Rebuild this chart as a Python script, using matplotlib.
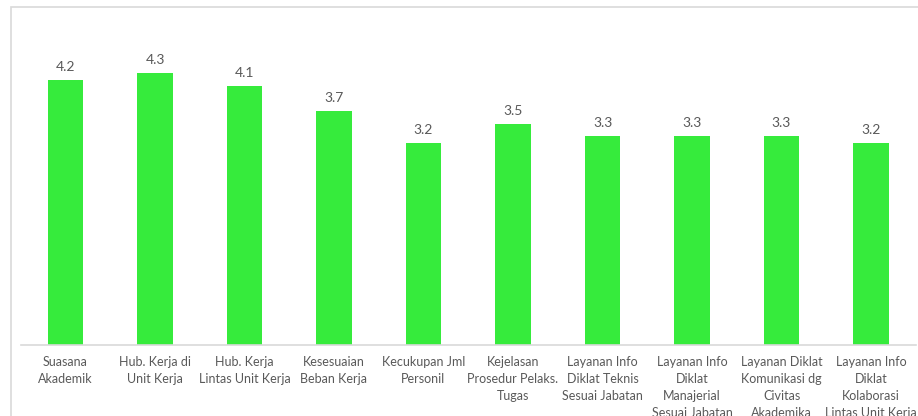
import matplotlib
matplotlib.use("Agg")
import matplotlib.pyplot as plt
from matplotlib.patches import Rectangle

categories = [
    "Suasana\nAkademik",
    "Hub. Kerja di\nUnit Kerja",
    "Hub. Kerja\nLintas Unit Kerja",
    "Kesesuaian\nBeban Kerja",
    "Kecukupan Jml\nPersonil",
    "Kejelasan\nProsedur Pelaks.\nTugas",
    "Layanan Info\nDiklat Teknis\nSesuai Jabatan",
    "Layanan Info\nDiklat\nManajerial\nSesuai Jabatan",
    "Layanan Diklat\nKomunikasi dg\nCivitas\nAkademika",
    "Layanan Info\nDiklat\nKolaborasi\nLintas Unit Kerja",
]
scores = [4.2, 4.3, 4.1, 3.7, 3.2, 3.5, 3.3, 3.3, 3.3, 3.2]

BAR_COLOR = "#36EB3C"
TEXT_COLOR = "#595959"
LINE_COLOR = "#D9D9D9"
FONT = ["Lato", "DejaVu Sans"]

W, H = 918, 416
fig = plt.figure(figsize=(W / 100, H / 100), dpi=100)

# chart-area border (runs off the right and bottom edges)
fig.patches.append(Rectangle((10.5 / W, -0.2), 1.2, (H - 7.5) / H + 0.2,
                             transform=fig.transFigure, fill=False,
                             edgecolor=LINE_COLOR, linewidth=1.2))

left, right = 20.75, 915.75
base_y, top_y = 345, 29
ax = fig.add_axes([left / W, (H - base_y) / H, (right - left) / W, (base_y - top_y) / H])

x = range(len(scores))
bars = ax.bar(x, scores, width=0.4, color=BAR_COLOR, zorder=2)
ax.set_xlim(-0.5, len(scores) - 0.5)
ax.set_ylim(0, 5)

for rect, v in zip(bars, scores):
    ax.annotate(f"{v:.1f}", (rect.get_x() + rect.get_width() / 2, v),
                xytext=(0, 5), textcoords="offset points",
                ha="center", va="bottom", fontsize=10, color=TEXT_COLOR,
                family=FONT)

ax.set_xticks(list(x))
ax.set_xticklabels(categories, fontsize=9, color=TEXT_COLOR, family=FONT,
                   linespacing=1.48, va="top")
ax.tick_params(axis="x", length=0, pad=8)
ax.set_yticks([])
for side in ("top", "right", "left"):
    ax.spines[side].set_visible(False)
ax.spines["bottom"].set_color(LINE_COLOR)
ax.spines["bottom"].set_linewidth(1.2)
ax.spines["bottom"].set_zorder(3)

fig.savefig("out.png", dpi=100)
